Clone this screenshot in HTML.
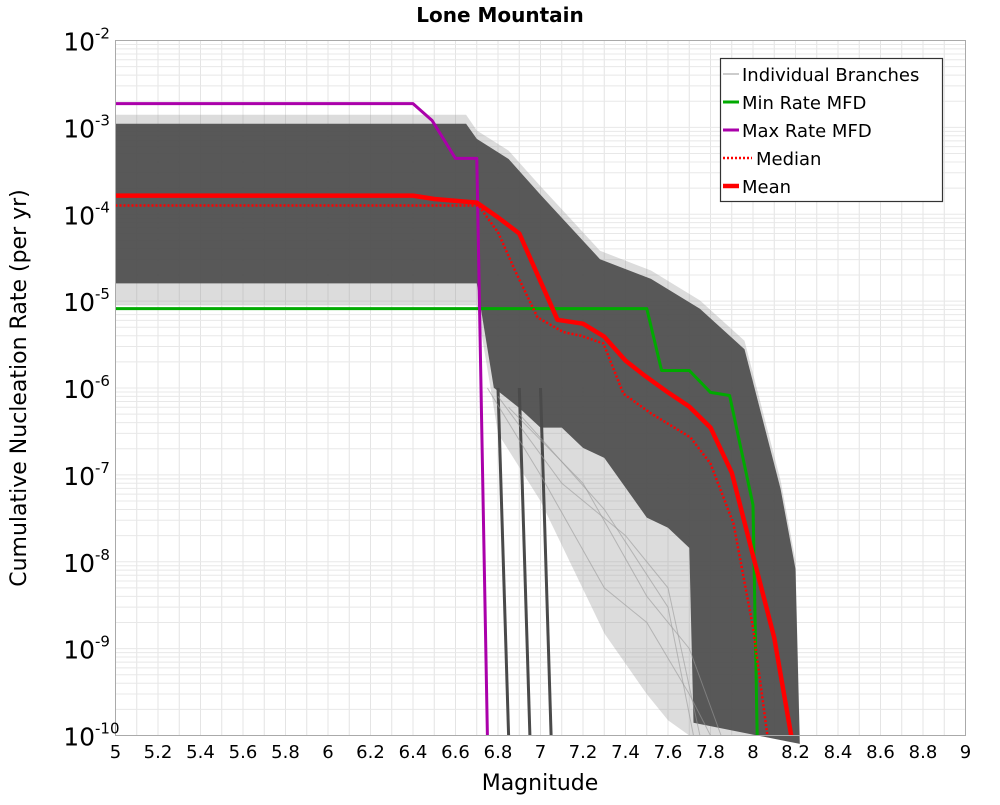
<!DOCTYPE html>
<html><head><meta charset="utf-8"><style>
body{margin:0;background:#fff;}
svg text{font-family:"DejaVu Sans","Liberation Sans",sans-serif;}
</style></head><body>
<svg id="chart" width="1000" height="800" xmlns="http://www.w3.org/2000/svg">
<text x="500" y="22" text-anchor="middle" font-size="20" font-weight="bold">Lone Mountain</text>
<text x="540" y="790" text-anchor="middle" font-size="22">Magnitude</text>
<text transform="translate(26,388) rotate(-90)" text-anchor="middle" font-size="22">Cumulative Nucleation Rate (per yr)</text>
<g id="grid"></g>
<g id="branches"></g>
<g id="series"></g>
<rect x="115.5" y="40.5" width="850" height="695" fill="none" stroke="#aaa" stroke-width="1"/>
<g id="ticks"></g>
<g>
<rect x="720.5" y="58.5" width="222" height="143" fill="#fff" stroke="#333" stroke-width="1.2"/>
<line x1="723" y1="74" x2="739" y2="74" stroke="#bbb" stroke-width="1.5"/>
<text x="742" y="81" font-size="18">Individual Branches</text>
<line x1="723" y1="102" x2="739" y2="102" stroke="#00aa00" stroke-width="3"/>
<text x="742" y="109" font-size="18">Min Rate MFD</text>
<line x1="723" y1="130" x2="739" y2="130" stroke="#aa00aa" stroke-width="3"/>
<text x="742" y="137" font-size="18">Max Rate MFD</text>
<line x1="723" y1="158" x2="752" y2="158" stroke="#ff0000" stroke-width="2.5" stroke-dasharray="2,2"/>
<text x="756" y="165" font-size="18">Median</text>
<line x1="723" y1="186" x2="739" y2="186" stroke="#ff0000" stroke-width="4.5"/>
<text x="742" y="193" font-size="18">Mean</text>
</g>
</svg>
<script>
const xTicks=[5,5.2,5.4,5.6,5.8,6,6.2,6.4,6.6,6.8,7,7.2,7.4,7.6,7.8,8,8.2,8.4,8.6,8.8,9];
const yExponents=[-2,-3,-4,-5,-6,-7,-8,-9,-10];
const meanM=[5,6.4,6.5,6.7,6.8,6.9,7.08,7.2,7.3,7.4,7.49,7.6,7.7,7.8,7.9,8.0,8.1,8.18];
const meanR=[1.64e-4,1.64e-4,1.5e-4,1.36e-4,9.2e-5,6.0e-5,6.1e-6,5.5e-6,3.9e-6,2.07e-6,1.39e-6,8.9e-7,6.1e-7,3.5e-7,1.06e-7,1.18e-8,1.34e-9,1e-10];
const medianM=[5,6.708,6.8,6.88,6.986,7.108,7.19,7.296,7.39,7.52,7.706,7.8,7.908,8.0,8.068];
const medianR=[1.26e-4,1.26e-4,6.2e-5,2.25e-5,6.5e-6,4.4e-6,4.0e-6,3.25e-6,8.6e-7,5.1e-7,2.7e-7,1.35e-7,2.75e-8,1.75e-9,1e-10];
const minM=[5,7.5,7.57,7.7,7.8,7.89,8.0,8.02];
const minR=[8.2e-6,8.2e-6,1.59e-6,1.59e-6,8.9e-7,8.2e-7,4.5e-8,1e-10];
const maxM=[5,6.4,6.49,6.6,6.7,6.75];
const maxR=[1.88e-3,1.88e-3,1.2e-3,4.4e-4,4.4e-4,1e-10];
const bandUpperM=[5,6.65,6.7,6.85,7.0,7.28,7.52,7.75,7.96,8.13,8.2,8.22];
const bandUpperR=[1.4e-3,1.4e-3,9.2e-4,5.4e-4,2.1e-4,3.8e-5,2.25e-5,1.02e-5,3.5e-6,8.6e-8,1.03e-8,1e-10];
const bandLowerM=[5,6.7,6.78,6.9,7.0,7.1,7.2,7.3,7.4,7.5,7.6,7.7,7.72];
const bandLowerR=[1.2e-5,1.2e-5,7.2e-7,4.2e-7,2.5e-7,2.5e-7,1.46e-7,1.12e-7,5.1e-8,2.3e-8,1.76e-8,1.03e-8,1e-10];
const hazeLowerM=[5,6.7,6.8,7.0,7.3,7.5,7.6,7.7];
const hazeLowerR=[9e-6,9e-6,3e-7,5e-8,1.5e-9,3e-10,1.5e-10,1e-10];
const branchM=[[6.8,6.85],[6.9,6.95],[7.0,7.05],[6.75,7.0,7.3,7.5,7.7,7.8],[6.8,7.1,7.4,7.6,7.75],[6.85,7.2,7.5,7.7,7.85],[6.9,7.3,7.6,7.72]];
const branchR=[[1e-6,1e-10],[1e-6,1e-10],[1e-6,1e-10],[1e-6,1e-7,5e-9,2e-9,3e-10,1e-10],[8e-7,8e-8,2e-8,5e-9,1e-10],[6e-7,8e-8,4e-9,1e-9,1e-10],[5e-7,4e-8,3e-9,1e-10]];

const NS='http://www.w3.org/2000/svg';
const X0=115.5,X1=965.5,Y0=40.5,Y1=735.5;
function xs(m){return X0+(m-5)/4*(X1-X0);}
function ys(r){return Y0+(-2-Math.log10(r))/8*(Y1-Y0);}
function mk(tag,attrs,parent){const e=document.createElementNS(NS,tag);for(const k in attrs)e.setAttribute(k,attrs[k]);parent.appendChild(e);return e;}
const grid=document.getElementById('grid');
for(let i=0;i<=40;i++){const x=xs(5+i*0.1);
const l=mk('line',{x1:x,x2:x,y1:Y0,y2:Y1,stroke:'#e4e4e4','stroke-width':1},grid);

}
for(let d=-10;d<-2;d++){for(let k=1;k<10;k++){const y=ys(k*Math.pow(10,d));
const l=mk('line',{x1:X0,x2:X1,y1:y,y2:y,stroke:'#e8e8e8','stroke-width':1},grid);

}}
function pts(M,R){return M.map((m,i)=>xs(m).toFixed(1)+','+ys(R[i]).toFixed(1)).join(' ');}
const br=document.getElementById('branches');
const haze=mk('polygon',{points:pts(bandUpperM,bandUpperR)+' '+pts(hazeLowerM.slice().reverse(),hazeLowerR.slice().reverse()),fill:'#9a9a9a','fill-opacity':0.35},br);


const coreUR=bandUpperR.map((r,i)=>i<2?1.1e-3:r*0.8);
const coreLR=bandLowerR.map((r,i)=>i<2?1.6e-5:r*1.4);
const core=mk('polygon',{points:pts(bandUpperM,coreUR)+' '+pts(bandLowerM.slice().reverse(),coreLR.slice().reverse()),fill:'#505050','fill-opacity':0.95},br);


branchM.forEach((M,i)=>{const dark=i<3;
const p=mk('polyline',{points:pts(M,branchR[i]),fill:'none',stroke:dark?'#4a4a4a':'#999','stroke-width':dark?3:1,'stroke-opacity':dark?1:0.6},br);

});
const se=document.getElementById('series');
function line(M,R,col,w,dash,name){const p=mk('polyline',{points:pts(M,R),fill:'none',stroke:col,'stroke-width':w,'stroke-linejoin':'round'},se);
if(dash)p.setAttribute('stroke-dasharray',dash);

}
line(minM,minR,'#00aa00',3,null,'min-rate-line');
line(maxM,maxR,'#aa00aa',3,null,'max-rate-line');
line(medianM,medianR,'#ff0000',2.5,'2,2','median-line');
line(meanM,meanR,'#ff0000',4.5,null,'mean-line');
const tk=document.getElementById('ticks');
xTicks.forEach(v=>{const t=mk('text',{x:xs(v),y:758,'text-anchor':'middle','font-size':18},tk);t.textContent=String(v);

});
yExponents.forEach(e=>{const y=ys(Math.pow(10,e));
const t=mk('text',{x:95,y:y+10,'text-anchor':'end','font-size':25},tk);t.textContent='10';


const s=mk('text',{x:95,y:y-2,'font-size':15},tk);s.textContent=String(e);

});
</script>
</body></html>
